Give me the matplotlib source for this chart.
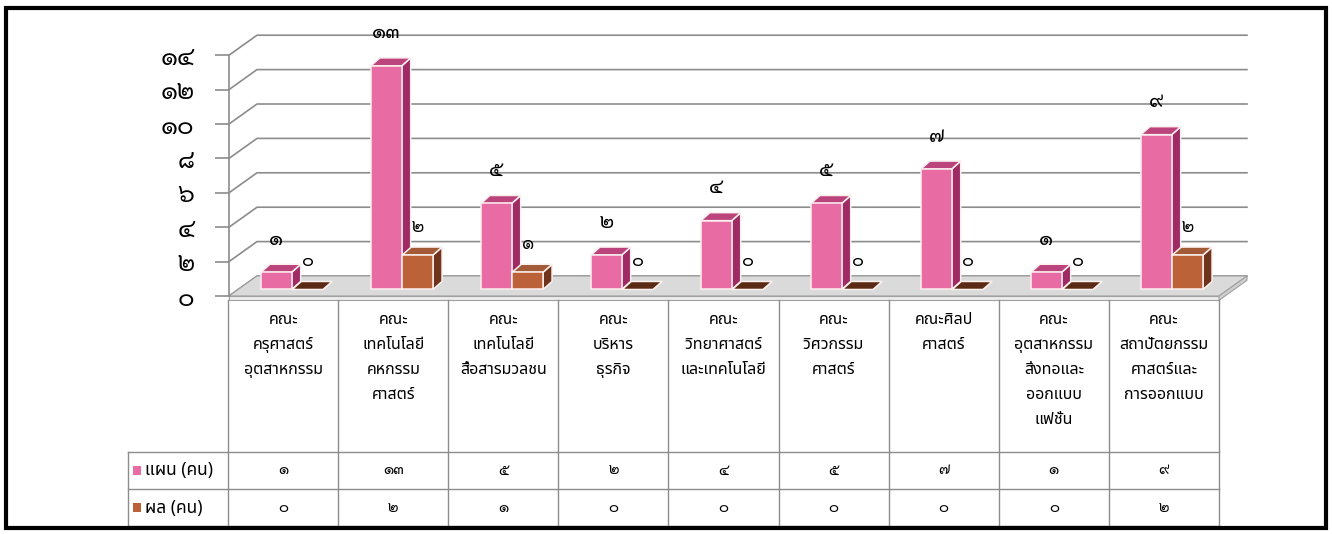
import matplotlib
matplotlib.use('Agg')
import matplotlib.pyplot as plt
from matplotlib.patches import Polygon, Rectangle

# ข้อมูล แผน / ผล (คน) แยกตามคณะ
คณะ = [
    'คณะ\nครุศาสตร์\nอุตสาหกรรม',
    'คณะ\nเทคโนโลยี\nคหกรรม\nศาสตร์',
    'คณะ\nเทคโนโลยี\nสื่อสารมวลชน',
    'คณะ\nบริหาร\nธุรกิจ',
    'คณะ\nวิทยาศาสตร์\nและเทคโนโลยี',
    'คณะ\nวิศวกรรม\nศาสตร์',
    'คณะศิลป\nศาสตร์',
    'คณะ\nอุตสาหกรรม\nสิ่งทอและ\nออกแบบ\nแฟชั่น',
    'คณะ\nสถาปัตยกรรม\nศาสตร์และ\nการออกแบบ',
]
แผน = [1, 13, 5, 2, 4, 5, 7, 1, 9]
ผล = [0, 2, 1, 0, 0, 0, 0, 0, 2]
series_names = ['แผน (คน)', 'ผล (คน)']
yticks = [0, 2, 4, 6, 8, 10, 12, 14]

THAI_DIGITS = str.maketrans('0123456789', '๐๑๒๓๔๕๖๗๘๙')


def thai(n):
    return str(n).translate(THAI_DIGITS)


NUM_FONT = ['Sarabun', 'DejaVu Sans']
TXT_FONT = ['Noto Sans Thai', 'DejaVu Sans']

pink = ('#E86BA4', '#A02A63', '#BC447D')   # front, side, top
brown = ('#BC6238', '#70331C', '#A35A36')
grid_c = '#8c8c8c'

W, H = 1332, 534
fig = plt.figure(figsize=(W / 100, H / 100), dpi=100)

# กรอบรอบแผนภูมิ
fig.patches.append(Rectangle((6 / W, 1 - 528 / H), 1320 / W, 520 / H, transform=fig.transFigure,
                             fill=False, lw=3, ec='black'))

# แกนกราฟ: x = ลำดับคณะ, y = จำนวนคน
ax = fig.add_axes([229 / W, 1 - 296 / H, 990 / W, 276 / H])
ax.set_xlim(-0.5, len(คณะ) - 0.5)
ax.set_ylim(0, 276 / 17.2)
ax.set_facecolor('none')
for s in ['top', 'right', 'bottom']:
    ax.spines[s].set_visible(False)
ax.spines['left'].set_bounds(0, 14)
ax.spines['left'].set_color(grid_c)
ax.spines['left'].set_linewidth(1.2)
ax.set_xticks([])
ax.set_yticks(yticks)
ax.set_yticklabels([thai(v) for v in yticks], family=NUM_FONT, fontsize=18)
ax.tick_params(axis='y', length=10, width=1.2, color=grid_c, pad=15)

# ความลึกของผนังหลังและของแท่ง (หน่วยข้อมูล)
wx, wy = 28 / 110, 20 / 17.2
bx, by = 9 / 110, 8 / 17.2
base = 0.38
x0, x1 = -0.5, len(คณะ) - 0.5

# พื้น
ax.add_patch(Polygon([(x0, 0), (x1, 0), (x1 + wx, wy), (x0 + wx, wy)], closed=True,
                     fc='#dadada', ec='#a0a0a0', lw=0.8, clip_on=False, zorder=1))
ax.add_patch(Polygon([(x0, 0), (x1, 0), (x1, -0.25), (x0, -0.25)], closed=True,
                     fc='#ececec', ec='#a0a0a0', lw=0.8, clip_on=False, zorder=1))
ax.add_patch(Polygon([(x1, 0), (x1 + wx, wy), (x1 + wx, wy - 0.25), (x1, -0.25)], closed=True,
                     fc='#cfcfcf', ec='#a0a0a0', lw=0.8, clip_on=False, zorder=1))

# เส้นตาราง ผนังซ้ายและผนังหลัง
for v in yticks:
    ax.plot([x0, x0 + wx, x1 + wx], [v, v + wy, v + wy], color=grid_c, lw=1.2,
            clip_on=False, zorder=0.5)


def bar3d(x, w, h, cols):
    front, side, top = cols
    b = base
    kw = dict(ec='#fbf0ee', lw=1.1, clip_on=False, zorder=3)
    ax.add_patch(Polygon([(x + w, b), (x + w + bx, b + by), (x + w + bx, b + h + by), (x + w, b + h)],
                         closed=True, fc=side, **kw))
    ax.add_patch(Polygon([(x, b + h), (x + bx, b + h + by), (x + w + bx, b + h + by), (x + w, b + h)],
                         closed=True, fc=top, **kw))
    if h > 0:
        ax.add_patch(Rectangle((x, b), w, h, fc=front, **kw))


bw = 0.28
for i in range(len(คณะ)):
    xp = i - 0.5 + 0.29
    xb = i - 0.5 + 0.575
    bar3d(xp, bw, แผน[i], pink)
    bar3d(xb, bw, ผล[i], brown if ผล[i] > 0 else ('#5a2a14', '#5a2a14', '#5a2a14'))
    ax.text(xp + bw / 2, base + แผน[i] + by + 1.45, thai(แผน[i]), ha='center', va='center',
            family=NUM_FONT, fontsize=15, zorder=5, clip_on=False)
    ax.text(xb + bw / 2, base + ผล[i] + by + 1.15, thai(ผล[i]), ha='center', va='center',
            family=NUM_FONT, fontsize=13, zorder=5, clip_on=False)

# ตารางข้อมูลใต้กราฟ
tab = fig.add_axes([128 / W, 1 - 526 / H, 1091 / W, 226 / H])
tab.set_xlim(-0.5 - 100 / 110, x1)
tab.set_ylim(0, 226)
tab.axis('off')
tl = tab.get_xlim()[0]
line_kw = dict(color=grid_c, lw=1, clip_on=False)
for k in range(len(คณะ) + 1):
    tab.plot([k - 0.5, k - 0.5], [0, 226], **line_kw)
tab.plot([tl, tl], [0, 74], **line_kw)
for yy in [0, 37, 74]:
    tab.plot([tl, x1], [yy, yy], **line_kw)

for i, name in enumerate(คณะ):
    tab.text(i, 214, name, ha='center', va='top', family=TXT_FONT, fontsize=11.5,
             linespacing=1.75)
    tab.text(i, 55.5, thai(แผน[i]), ha='center', va='center', family=NUM_FONT, fontsize=11)
    tab.text(i, 18.5, thai(ผล[i]), ha='center', va='center', family=NUM_FONT, fontsize=11)

for yy, name, col in [(55.5, series_names[0], pink[0]), (18.5, series_names[1], brown[0])]:
    tab.add_patch(Rectangle((tl + 5 / 110, yy - 4.5), 8 / 110, 9, fc=col, ec='none'))
    tab.text(tl + 17 / 110, yy, name, ha='left', va='center', family=TXT_FONT, fontsize=12.5)

fig.savefig('out.png', dpi=100)
